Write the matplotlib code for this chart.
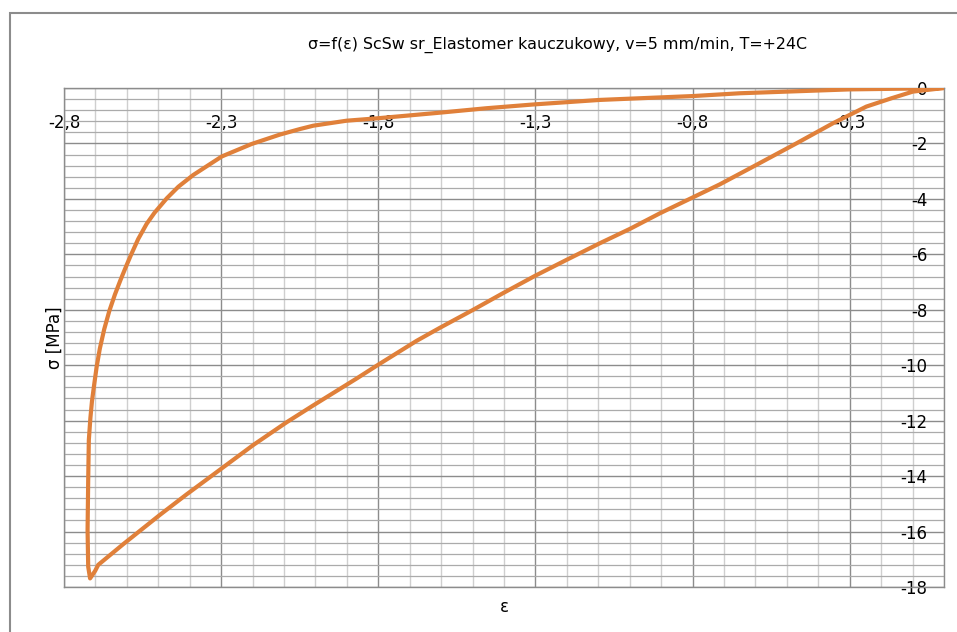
import matplotlib
matplotlib.use('Agg')
import matplotlib.pyplot as plt
from matplotlib.ticker import MultipleLocator, FixedLocator
from matplotlib.patches import Rectangle

plt.rcParams['axes.unicode_minus'] = False
plt.rcParams['font.family'] = 'DejaVu Sans'

# loading branch (0 -> max compression), then unloading back to 0
strain = [0.000, -0.099, -0.167, -0.247, -0.300, -0.353, -0.470, -0.608, -0.714, -0.798,
          -0.904, -0.999, -1.095, -1.201, -1.302, -1.403, -1.498, -1.604, -1.678, -1.800,
          -1.869, -2.007, -2.092, -2.198, -2.298, -2.410, -2.495, -2.537, -2.611, -2.691,
          -2.701, -2.717,
          -2.723, -2.725, -2.723, -2.721, -2.716, -2.711, -2.704, -2.696, -2.686, -2.672,
          -2.656, -2.638, -2.620, -2.603, -2.588, -2.564, -2.537, -2.512, -2.473, -2.436,
          -2.389, -2.298, -2.203, -2.113, -2.049, -2.007, -1.901, -1.800, -1.604, -1.456,
          -1.302, -1.095, -0.798, -0.650, -0.300, -0.100, 0.000]
stress = [0.00, -0.13, -0.37, -0.67, -0.97, -1.27, -2.00, -2.84, -3.48, -3.94,
          -4.52, -5.08, -5.60, -6.20, -6.78, -7.40, -8.00, -8.65, -9.12, -9.98,
          -10.48, -11.45, -12.06, -12.88, -13.72, -14.66, -15.40, -15.78, -16.45, -17.20,
          -17.42, -17.69,
          -17.27, -15.95, -14.14, -12.70, -11.90, -11.30, -10.70, -10.05, -9.40, -8.70,
          -8.05, -7.45, -6.92, -6.45, -6.05, -5.45, -4.90, -4.50, -3.98, -3.56,
          -3.14, -2.47, -2.02, -1.68, -1.48, -1.36, -1.18, -1.09, -0.89, -0.73,
          -0.59, -0.43, -0.29, -0.19, -0.05, -0.02, 0.00]

x_ticks = [-2.8, -2.3, -1.8, -1.3, -0.8, -0.3]
x_labels = ['-2,8', '-2,3', '-1,8', '-1,3', '-0,8', '-0,3']
y_ticks = [0, -2, -4, -6, -8, -10, -12, -14, -16, -18]
y_labels = ['0', '-2', '-4', '-6', '-8', '-10', '-12', '-14', '-16', '-18']

fig = plt.figure(figsize=(9.57, 6.32), dpi=100)
ax = fig.add_axes([64/957, 1-587/632, 880/957, 499/632])

ax.plot(strain, stress, color='#E0803A', linewidth=3.0, solid_joinstyle='round', zorder=3)

ax.set_xlim(-2.8, 0)
ax.set_ylim(-18, 0)

ax.xaxis.set_major_locator(FixedLocator(x_ticks))
ax.xaxis.set_minor_locator(MultipleLocator(0.1))
ax.set_xticklabels(x_labels)
ax.yaxis.set_major_locator(FixedLocator(y_ticks))
ax.yaxis.set_minor_locator(MultipleLocator(0.4))
ax.set_yticklabels(y_labels)

ax.grid(which='major', axis='both', color='#8C8C8C', linewidth=1.0)
ax.grid(which='minor', axis='y', color='#ABABAB', linewidth=0.9)
ax.grid(which='minor', axis='x', color='#CFCFCF', linewidth=1.0)
ax.set_axisbelow(True)

# x axis crosses at the top, y axis at the right, labels inside the plot
ax.xaxis.tick_top()
ax.yaxis.tick_right()
ax.tick_params(axis='x', which='both', length=0, pad=-31.5, labelsize=12)
ax.tick_params(axis='y', which='both', length=0, pad=-12, labelsize=12)
for lbl in ax.get_yticklabels():
    lbl.set_horizontalalignment('right')

for s in ax.spines.values():
    s.set_color('#8C8C8C')
    s.set_linewidth(1.0)

ax.set_xlabel('ε', fontsize=12, labelpad=8)
ax.xaxis.set_label_position('bottom')
ax.set_ylabel('σ [MPa]', fontsize=12, labelpad=0.5)
ax.yaxis.set_label_position('left')

fig.text(558/957, 1-45/632, 'σ=f(ε) ScSw sr_Elastomer kauczukowy, v=5 mm/min, T=+24C',
         ha='center', va='center', fontsize=11.4)

fig.add_artist(Rectangle((10/957, -0.1), 1.2, 1.1-13/632, transform=fig.transFigure,
                         fill=False, edgecolor='#8C8C8C', linewidth=1.5))

fig.savefig('out.png', dpi=100)
